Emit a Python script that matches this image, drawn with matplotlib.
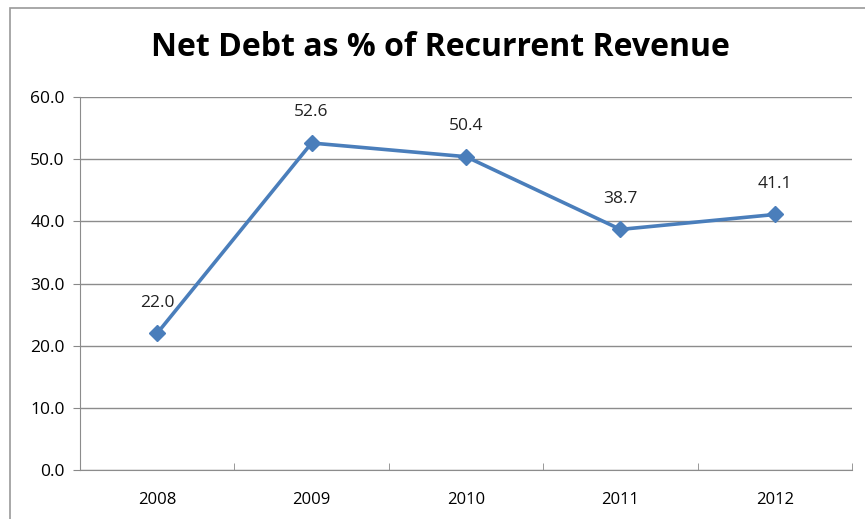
import matplotlib.pyplot as plt
from matplotlib.patches import Rectangle

years = ['2008', '2009', '2010', '2011', '2012']
ratio = [22.0, 52.6, 50.4, 38.7, 41.1]
title = 'Net Debt as % of Recurrent Revenue'

plt.rcParams['font.family'] = ['Open Sans', 'DejaVu Sans']

fig = plt.figure(figsize=(8.65, 5.19), dpi=100)
W, H = 865, 519
ax = fig.add_axes([80 / W, 1 - 470 / H, (852 - 80) / W, (470 - 97) / H])

x = range(len(years))
ax.plot(x, ratio, color='#4A7EBB', lw=2.6, marker='D', ms=8, mec='#4A7EBB', mfc='#4A7EBB')
for i, v in zip(x, ratio):
    ax.annotate(f'{v:.1f}', (i, v), xytext=(0, 22), textcoords='offset points',
                ha='center', va='center', fontsize=12.5, color='#222222')

ax.set_xlim(-0.5, len(years) - 0.5)
ax.set_ylim(0, 60)
ax.set_yticks(range(0, 61, 10))
ax.set_yticklabels([f'{t:.1f}' for t in range(0, 61, 10)], fontsize=12.5)
ax.set_xticks(list(x))
ax.set_xticklabels(years, fontsize=12)
ax.set_xticks([i - 0.5 for i in range(len(years) + 1)], minor=True)
ax.tick_params(axis='x', which='major', length=0, pad=16)
ax.tick_params(axis='x', which='minor', length=5, color='#888888', direction='in')
ax.tick_params(axis='y', length=5, color='#888888', pad=6)
ax.grid(axis='y', color='#8c8c8c', lw=1)
ax.set_axisbelow(True)
for s in ['top', 'right']:
    ax.spines[s].set_visible(False)
for s in ['left', 'bottom']:
    ax.spines[s].set_color('#8c8c8c')

fig.text(440 / W, 1 - 48 / H, title, ha='center', va='center', fontsize=23,
         fontweight='bold', color='black')

fig.patches.append(Rectangle((10 / W, -0.05), 1.1, 1 - 8 / H + 0.05, transform=fig.transFigure,
                             fill=False, ec='#9a9a9a', lw=1.2))

fig.savefig('out.png', dpi=100)
